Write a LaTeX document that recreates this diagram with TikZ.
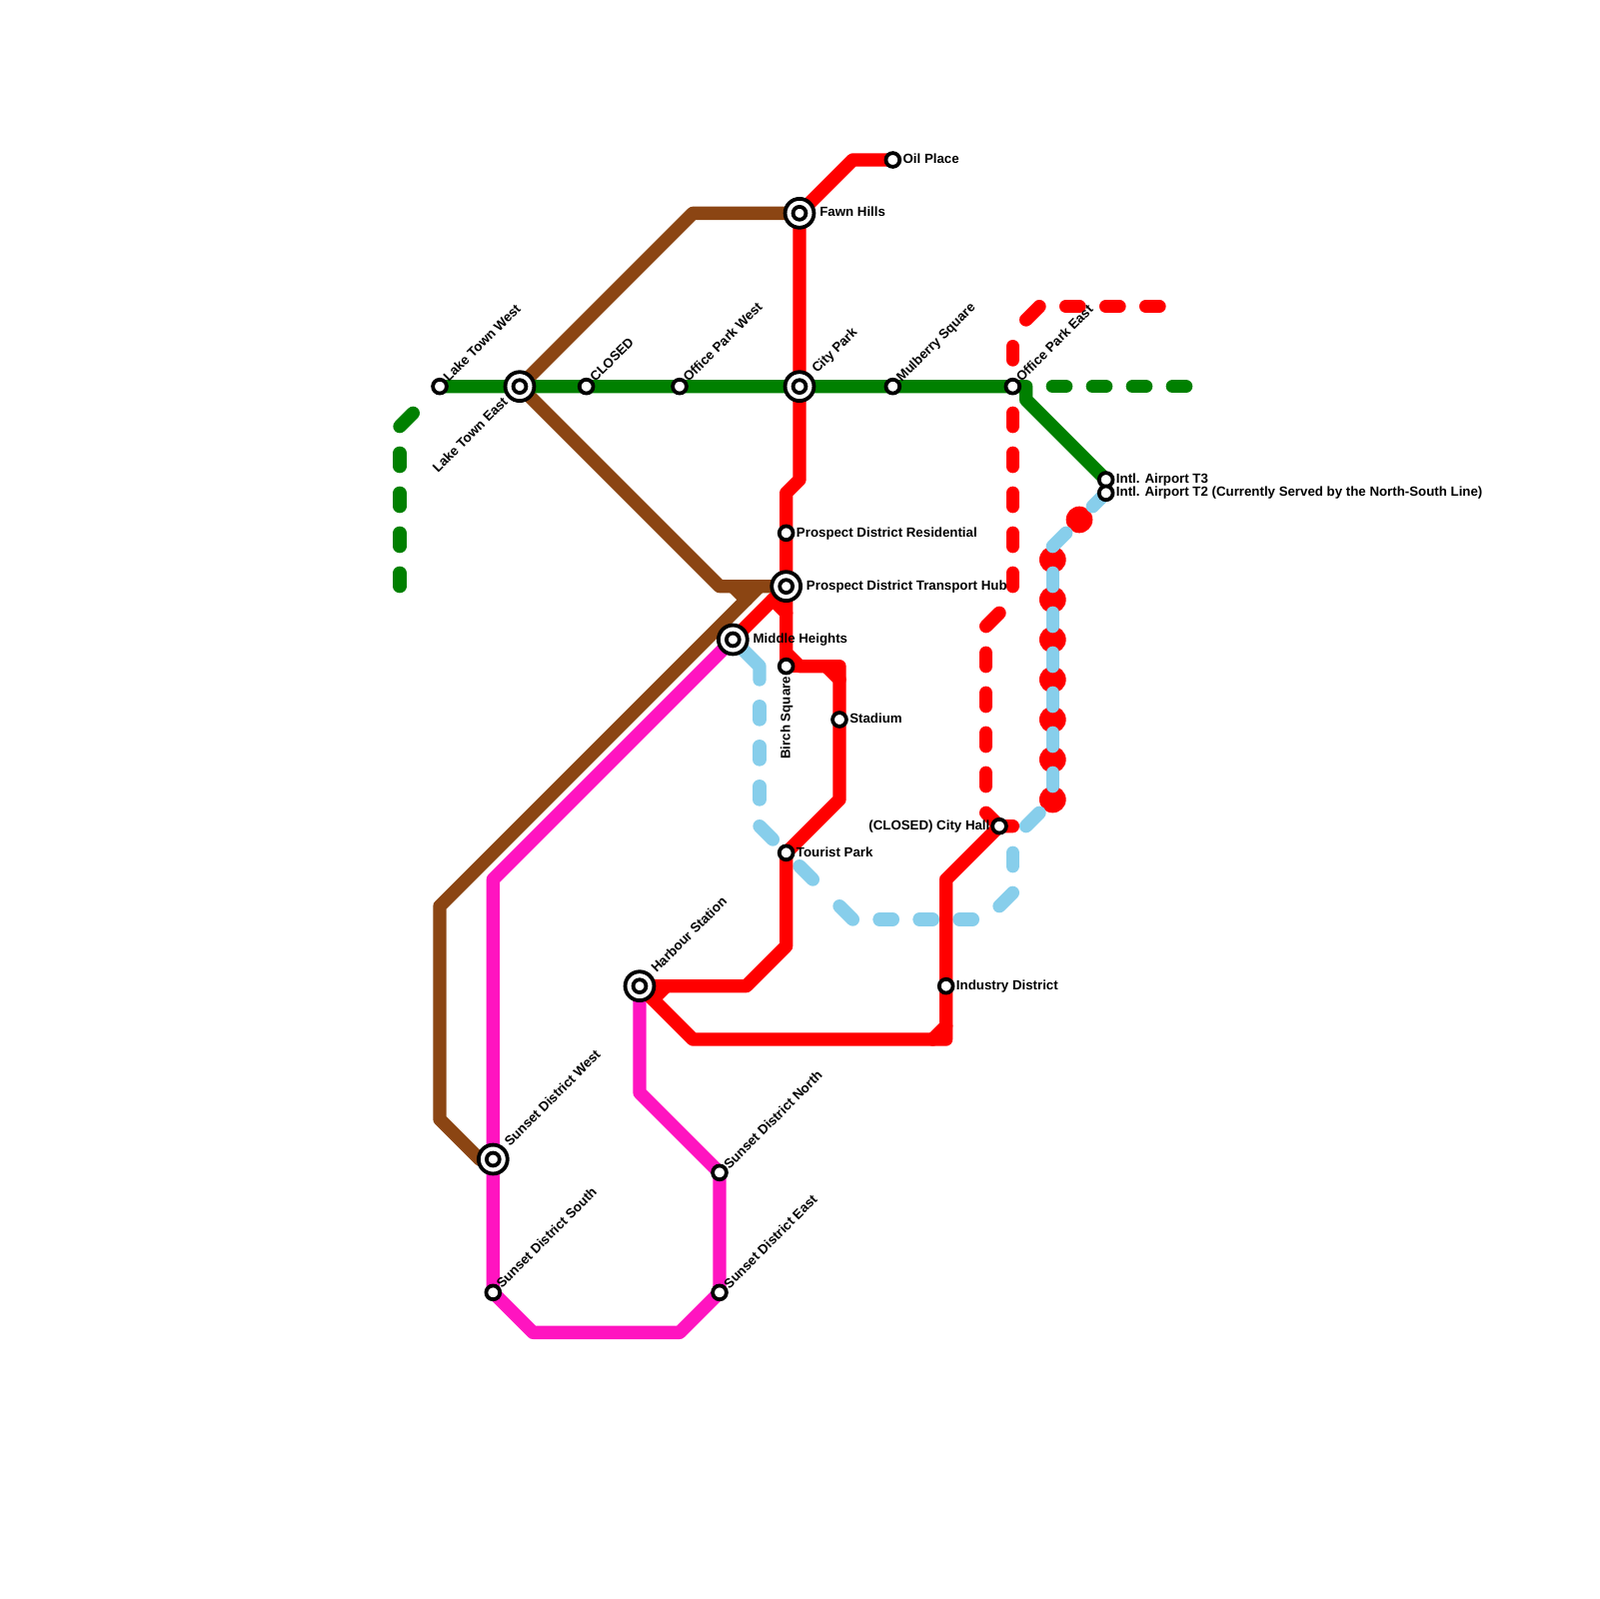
\documentclass[tikz,border=0pt]{standalone}
\usepackage{fontspec}
\setmainfont{Liberation Sans}
\usepackage{xcolor}
\usetikzlibrary{positioning,backgrounds,calc}
\definecolor{cverde}{HTML}{008000}
\definecolor{crojo}{HTML}{FF0000}
\definecolor{ccafe}{HTML}{8B4513}
\definecolor{crosa}{HTML}{FF14C0}
\definecolor{ccielo}{HTML}{87CEEB}
\tikzset{
  track/.style={line width=3mm, line cap=round, line join=round},
  dashrun/.style={track, dash pattern=on 3mm off 6mm},
  dashdiag/.style={track, dash pattern=on 4.243mm off 8.485mm},
  stn/.style={circle, draw=black, fill=white, line width=.85mm, minimum size=3.1mm, inner sep=0pt},
  hub/.style={stn, minimum size=6.5mm, label={[stn, minimum size=2.9mm]center:}},
  lbl/.style={font=\fontsize{8.5}{10}\selectfont\bfseries, inner sep=0pt, text height=.72em, text depth=.2em},
  lblr/.style={lbl, anchor=west},
  lbld/.style={lbl, anchor=west, rotate=45},
}

\begin{document}
\begin{tikzpicture}[x=3mm, y=-3mm]
  \useasboundingbox (0,0) rectangle (120,120);
  % stations
  \node[stn] (oilplace) at (67,12) {};
  \node[hub] (fawnhills) at (60,16) {};
  \node[stn] (lakewest) at (33,29) {};
  \node[hub] (lakeeast) at (39,29) {};
  \node[stn] (closed) at (44,29) {};
  \node[stn] (officewest) at (51,29) {};
  \node[hub] (citypark) at (60,29) {};
  \node[stn] (mulberry) at (67,29) {};
  \node[stn] (officeeast) at (76,29) {};
  \node[stn] (airportthree) at (83,36) {};
  \node[stn] (airporttwo) at (83,37) {};
  \node[stn] (prospectres) at (59,40) {};
  \node[hub] (prospecthub) at (59,44) {};
  \node[hub] (middleheights) at (55,48) {};
  \node[stn] (birch) at (59,50) {};
  \node[stn] (stadium) at (63,54) {};
  \node[stn] (cityhall) at (75,62) {};
  \node[stn] (tourist) at (59,64) {};
  \node[hub] (harbour) at (48,74) {};
  \node[stn] (industry) at (71,74) {};
  \node[hub] (sunsetwest) at (37,87) {};
  \node[stn] (sunsetnorth) at (54,88) {};
  \node[stn] (sunsetsouth) at (37,97) {};
  \node[stn] (sunseteast) at (54,97) {};
  % labels
  \node[lblr] (oilplacetxt) at (67.75,11.97) {Oil Place};
  \node[lblr] (fawnhillstxt) at (61.5,15.97) {Fawn Hills};
  \node[lbld] (lakewesttxt) at (33.45,28.5) {Lake Town West};
  \node[lbl, anchor=east, rotate=45] (lakeeasttxt) at (37.95,30) {Lake Town East};
  \node[lbld] (closedtxt) at (44.45,28.5) {CLOSED};
  \node[lbld] (officewesttxt) at (51.45,28.5) {Office Park West};
  \node[lbld] (cityparktxt) at (61.1,27.85) {City Park};
  \node[lbld] (mulberrytxt) at (67.45,28.5) {Mulberry Square};
  \node[lbld] (officeeasttxt) at (76.45,28.5) {Office Park East};
  \node[lblr] (airportthreetxt) at (83.75,35.97) {Intl. Airport T3};
  \node[lblr] (airporttwotxt) at (83.75,36.97) {Intl. Airport T2 (Currently Served by the North-South Line)};
  \node[lblr] (prospectrestxt) at (59.75,39.97) {Prospect District Residential};
  \node[lblr] (prospecthubtxt) at (60.5,43.97) {Prospect District Transport Hub};
  \node[lblr] (middleheightstxt) at (56.5,47.97) {Middle Heights};
  \node[lbl, anchor=east, rotate=90] (birchtxt) at (59,50.75) {Birch Square};
  \node[lblr] (stadiumtxt) at (63.75,53.97) {Stadium};
  \node[lbl, anchor=east] (cityhalltxt) at (74.3,61.95) {(CLOSED) City Hall};
  \node[lblr] (touristtxt) at (59.75,63.97) {Tourist Park};
  \node[lbld] (harbourtxt) at (49.05,72.85) {Harbour Station};
  \node[lblr] (industrytxt) at (71.75,73.97) {Industry District};
  \node[lbld] (sunsetwesttxt) at (38.05,85.85) {Sunset District West};
  \node[lbld] (sunsetnorthtxt) at (54.5,87.6) {Sunset District North};
  \node[lbld] (sunsetsouthtxt) at (37.45,96.5) {Sunset District South};
  \node[lbld] (sunseteasttxt) at (54.5,96.55) {Sunset District East};
  \begin{scope}[on background layer]
    % planned red line
    \draw[dashrun, crojo] (87,23) -- (80,23);
    \draw[dashdiag, crojo] (78,23) -- (76,25);
    \draw[track, crojo] (76,26) -- (76,27);
    \draw[dashrun, crojo] (76,31) -- (76,44);
    \draw[track, crojo] (75,46) -- (74,47);
    \draw[dashrun, crojo] (74,49) -- (74,59);
    \draw[track, crojo] (74,61) -- (cityhall.center);
    \fill[crojo] (81,39) circle (3mm);
    \foreach \y in {42,45,...,60}
      \fill[crojo] (79,\y) circle (3mm);
    % sky line
    \draw[track, ccielo] (middleheights.center) -- (57,50) -- (57,51);
    \draw[dashrun, ccielo] (57,53) -- (57,60);
    \draw[dashdiag, ccielo] (57,62) -- (64,69);
    \draw[dashrun, ccielo] (66,69) -- (73,69);
    \draw[track, ccielo] (76,67) -- (75,68);
    \draw[track, ccielo] (76,64) -- (76,65);
    \draw[track, ccielo] (77,62) -- (78,61);
    \draw[dashrun, ccielo] (79,43) -- (79,59);
    \draw[track, ccielo] (79,41) -- (80,40);
    \draw[track, ccielo] (82,38) -- (airporttwo.center);
    % brown line
    \draw[track, ccafe] (prospecthub.center) -- (54,44) -- (lakeeast.center) -- (52,16) -- (fawnhills.center);
    \draw[track, ccafe] (57,44) -- (33,68) -- (33,84) -- (36,87) -- (sunsetwest.center);
    \draw[track, ccafe] (55,44) -- (56,45);
    % magenta line
    \draw[track, crosa] (middleheights.center) -- (37,66) -- (sunsetwest.center) -- (sunsetsouth.center) -- (40,100) -- (51,100) -- (sunseteast.center) -- (sunsetnorth.center) -- (48,82) -- (harbour.center);
    % green line
    \draw[dashrun, cverde] (79,29) -- (89,29);
    \draw[track, cverde] (30,32) -- (31,31);
    \draw[dashrun, cverde] (30,34) -- (30,44);
    \draw[track, cverde] (lakewest.center) -- (lakeeast.center) -- (closed.center) -- (officewest.center) -- (citypark.center) -- (mulberry.center) -- (officeeast.center) -- (77,29) -- (77,30) -- (airportthree.center);
    % red line
    \draw[track, crojo] (oilplace.center) -- (64,12) -- (fawnhills.center) -- (citypark.center) -- (60,36) -- (59,37) -- (prospectres.center) -- (prospecthub.center) -- (59,49) -- (60,50) -- (63,50) -- (stadium.center) -- (63,60) -- (tourist.center) -- (59,71) -- (56,74) -- (harbour.center);
    \draw[track, crojo] (59,49) -- (birch.center) -- (60,50);
    \draw[track, crojo] (62,50) -- (63,51);
    \draw[track, crojo] (middleheights.center) -- (58,45) -- (prospecthub.center);
    \draw[track, crojo] (58,45) -- (59,46);
    \draw[track, crojo] (harbour.center) -- (52,78) -- (71,78) -- (industry.center) -- (71,66) -- (cityhall.center) -- (76,62);
    \draw[track, crojo] (49,75) -- (50,74);
    \draw[track, crojo] (70,78) -- (71,77);
  \end{scope}
\end{tikzpicture}
\end{document}
